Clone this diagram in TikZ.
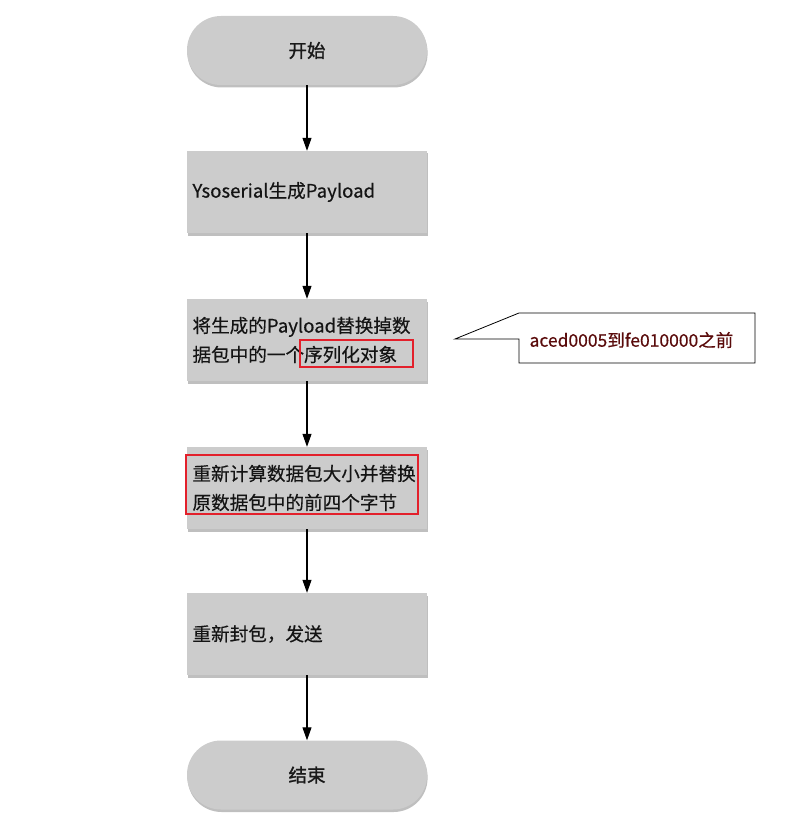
\documentclass[tikz,border=0pt]{standalone}
\usepackage{fontspec}
\setmainfont{Noto Sans CJK SC}[FakeBold=0.4]
\newfontfamily\heavyfont{Noto Sans CJK SC}[FakeBold=1.4]
\usetikzlibrary{arrows.meta,shadows}

\definecolor{boxgray}{HTML}{CCCCCC}
\definecolor{markred}{HTML}{E3202B}
\definecolor{notered}{HTML}{5A0B0B}

\tikzset{
  terminal/.style={draw=none, fill=boxgray, rounded corners=34pt,
    minimum width=240pt, minimum height=69pt,
    drop shadow={shadow xshift=0.6pt, shadow yshift=-2.5pt, opacity=0.5},
    font=\heavyfont\fontsize{18.5}{22}\selectfont, text=black!90},
  process/.style={draw=none, fill=boxgray,
    minimum width=240pt, minimum height=82pt,
    text width=229pt, align=left,
    drop shadow={shadow xshift=0.6pt, shadow yshift=-2.5pt, opacity=0.5},
    font=\fontsize{18.6}{29}\selectfont, text=black!92},
  flow/.style={-{Triangle[length=13pt,width=9pt]}, line width=1.1pt},
  redframe/.style={draw=markred, line width=1.4pt}
}

\begin{document}
\begin{tikzpicture}[x=1pt,y=-1pt]
\useasboundingbox (0,0) rectangle (810,813);

% Steps
\node[terminal] (start) at (307,50.5) {开始};
\node[process] (gen) at (307,192) {Ysoserial生成Payload};
\node[process] (swap) at (307,340) {将生成的Payload替换掉数\\据包中的一个序列化对象};
\node[process] (size) at (307,488) {重新计算数据包大小并替换\\原数据包中的前四个字节};
\node[process] (send) at (307,634) {重新封包，发送};
\node[terminal] (stop) at (307,775) {结束};

% Arrows
\draw[flow] (start) -- (gen);
\draw[flow] (gen) -- (swap);
\draw[flow] (swap) -- (size);
\draw[flow] (size) -- (send);
\draw[flow] (send) -- (stop);

% Red frames
\draw[redframe] (300,340) rectangle (413,367);
\draw[redframe] (186,455) rectangle (418,514);

% Note
\draw[line width=0.8pt, fill=white] (455,339) -- (519,313) -- (755,313)
  -- (755,363) -- (519,363) -- (519,339) -- cycle;
\node[text=notered, font=\fontsize{17.5}{20}\selectfont, anchor=west]
  (note) at (526,340) {aced0005到fe010000之前};

\end{tikzpicture}
\end{document}
